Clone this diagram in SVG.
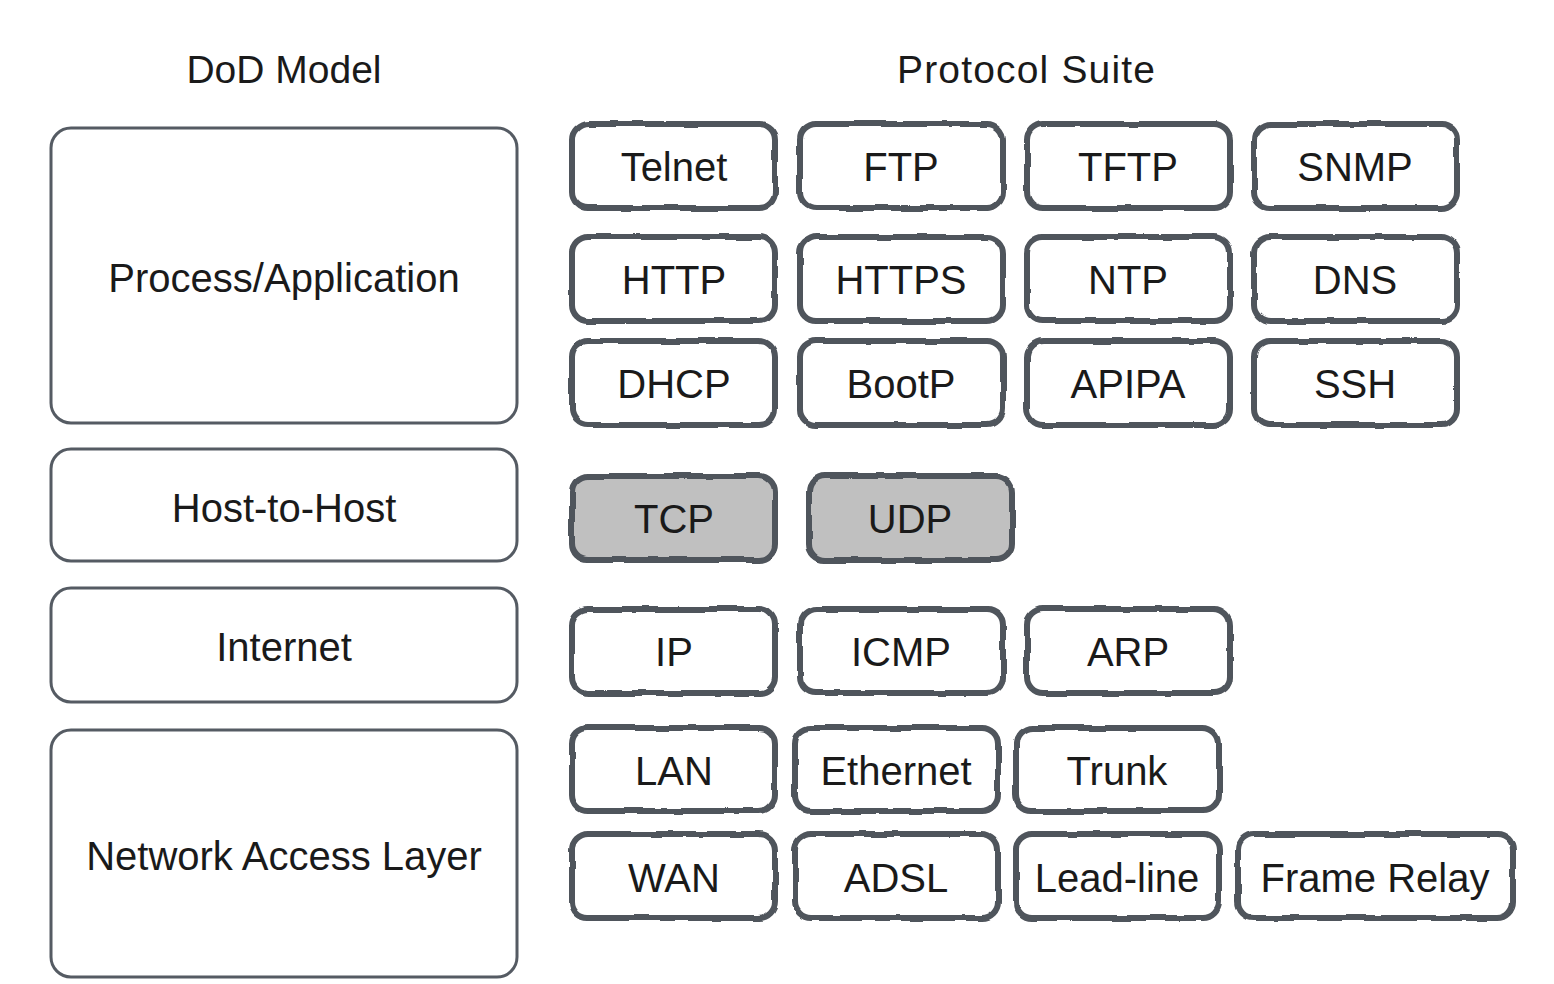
<svg xmlns="http://www.w3.org/2000/svg" width="1554" height="984" viewBox="0 0 1554 984">
  <defs>
    <filter id="rough" x="-5%" y="-5%" width="110%" height="110%">
      <feTurbulence type="fractalNoise" baseFrequency="0.035" numOctaves="2" seed="3" result="n"/>
      <feDisplacementMap in="SourceGraphic" in2="n" scale="4" xChannelSelector="R" yChannelSelector="G"/>
    </filter>
  </defs>
  <style>
    text { font-family: "Liberation Sans", Arial, sans-serif; font-size: 40px; fill: #1a1a1a; text-anchor: middle; }
    .title { font-size: 39px; }
    .layer { fill: #ffffff; stroke: #555b63; stroke-width: 3; }
    .proto { fill: #ffffff; stroke: #4f545b; stroke-width: 6; filter: url(#rough); }
    .transport { fill: #c0c0c0; }
  </style>
  <rect width="1554" height="984" fill="#ffffff"/>

  <g id="titles">
    <text class="title" x="284" y="83">DoD Model</text>
    <text class="title" x="1026" y="83" textLength="258">Protocol Suite</text>
  </g>

  <g id="dod-layers">
    <g id="layer-process"><rect class="layer" x="51" y="128" width="466" height="295" rx="20"/><text x="284" y="292">Process/Application</text></g>
    <g id="layer-host"><rect class="layer" x="51" y="449" width="466" height="112" rx="20"/><text x="284" y="522">Host-to-Host</text></g>
    <g id="layer-internet"><rect class="layer" x="51" y="588" width="466" height="114" rx="20"/><text x="284" y="661">Internet</text></g>
    <g id="layer-network"><rect class="layer" x="51" y="730" width="466" height="247" rx="20"/><text x="284" y="870">Network Access Layer</text></g>
  </g>

  <g id="protocols">
    <g id="p-telnet"><rect class="proto" x="572" y="124" width="203" height="84" rx="16"/><text x="674" y="181">Telnet</text></g>
    <g id="p-ftp"><rect class="proto" x="800" y="124" width="203" height="84" rx="16"/><text x="901" y="181">FTP</text></g>
    <g id="p-tftp"><rect class="proto" x="1027" y="124" width="203" height="84" rx="16"/><text x="1128" y="181">TFTP</text></g>
    <g id="p-snmp"><rect class="proto" x="1254" y="124" width="203" height="84" rx="16"/><text x="1355" y="181">SNMP</text></g>

    <g id="p-http"><rect class="proto" x="572" y="237" width="203" height="84" rx="16"/><text x="674" y="294">HTTP</text></g>
    <g id="p-https"><rect class="proto" x="800" y="237" width="203" height="84" rx="16"/><text x="901" y="294">HTTPS</text></g>
    <g id="p-ntp"><rect class="proto" x="1027" y="237" width="203" height="84" rx="16"/><text x="1128" y="294">NTP</text></g>
    <g id="p-dns"><rect class="proto" x="1254" y="237" width="203" height="84" rx="16"/><text x="1355" y="294">DNS</text></g>

    <g id="p-dhcp"><rect class="proto" x="572" y="341" width="203" height="84" rx="16"/><text x="674" y="398">DHCP</text></g>
    <g id="p-bootp"><rect class="proto" x="800" y="341" width="203" height="84" rx="16"/><text x="901" y="398">BootP</text></g>
    <g id="p-apipa"><rect class="proto" x="1027" y="341" width="203" height="84" rx="16"/><text x="1128" y="398">APIPA</text></g>
    <g id="p-ssh"><rect class="proto" x="1254" y="341" width="203" height="84" rx="16"/><text x="1355" y="398">SSH</text></g>

    <g id="p-tcp"><rect class="proto transport" x="572" y="476" width="203" height="84" rx="16"/><text x="674" y="533">TCP</text></g>
    <g id="p-udp"><rect class="proto transport" x="809" y="476" width="203" height="84" rx="16"/><text x="910" y="533">UDP</text></g>

    <g id="p-ip"><rect class="proto" x="572" y="609" width="203" height="84" rx="16"/><text x="674" y="666">IP</text></g>
    <g id="p-icmp"><rect class="proto" x="800" y="609" width="203" height="84" rx="16"/><text x="901" y="666">ICMP</text></g>
    <g id="p-arp"><rect class="proto" x="1027" y="609" width="203" height="84" rx="16"/><text x="1128" y="666">ARP</text></g>

    <g id="p-lan"><rect class="proto" x="572" y="728" width="203" height="83" rx="16"/><text x="674" y="785">LAN</text></g>
    <g id="p-ethernet"><rect class="proto" x="795" y="728" width="203" height="83" rx="16"/><text x="896" y="785">Ethernet</text></g>
    <g id="p-trunk"><rect class="proto" x="1016" y="728" width="203" height="83" rx="16"/><text x="1117" y="785">Trunk</text></g>

    <g id="p-wan"><rect class="proto" x="572" y="834" width="203" height="84" rx="16"/><text x="674" y="892">WAN</text></g>
    <g id="p-adsl"><rect class="proto" x="795" y="834" width="203" height="84" rx="16"/><text x="896" y="892">ADSL</text></g>
    <g id="p-leadline"><rect class="proto" x="1016" y="834" width="203" height="84" rx="16"/><text x="1117" y="892">Lead-line</text></g>
    <g id="p-framerelay"><rect class="proto" x="1238" y="834" width="275" height="84" rx="16"/><text x="1375" y="892">Frame Relay</text></g>
  </g>

  <g id="connectors"></g>
</svg>
